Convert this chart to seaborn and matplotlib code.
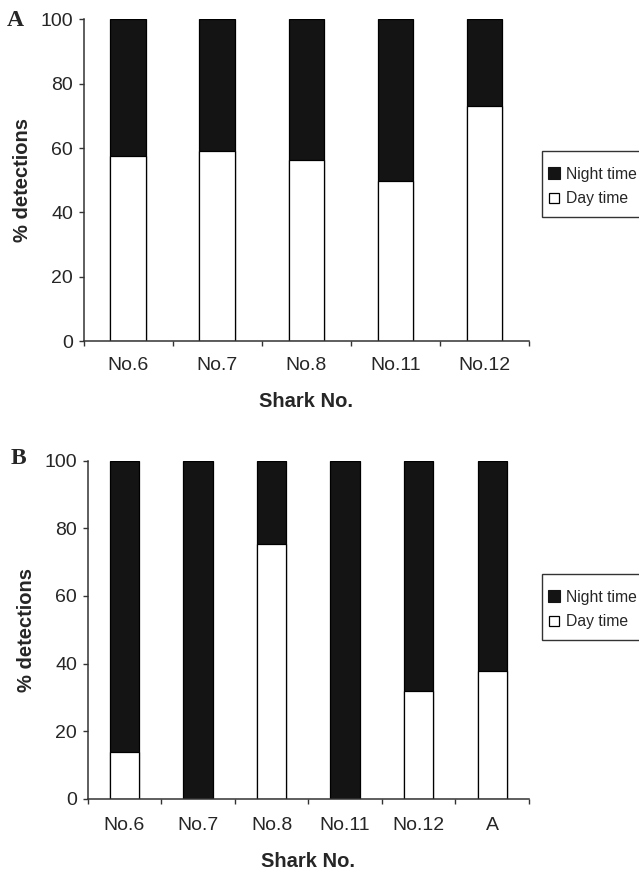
import matplotlib
matplotlib.use("Agg")
import matplotlib.pyplot as plt
import seaborn as sns
from matplotlib.lines import Line2D
from matplotlib.patches import Rectangle

sns.set_theme(style="white")
plt.rcParams['font.family'] = ['Liberation Sans', 'DejaVu Sans']

# Panel A data
cats_a = ["No.6", "No.7", "No.8", "No.11", "No.12"]
day_a = [57.6, 59.1, 56.3, 49.7, 73.1]
night_a = [42.4, 40.9, 43.7, 50.3, 26.9]

# Panel B data
cats_b = ["No.6", "No.7", "No.8", "No.11", "No.12", "A"]
day_b = [13.9, 0.0, 75.5, 0.0, 31.8, 37.9]
night_b = [86.1, 100.0, 24.5, 100.0, 68.2, 62.1]

yticks = [0, 20, 40, 60, 80, 100]

W, H = 639, 871
fig = plt.figure(figsize=(W / 100, H / 100), dpi=100)
ax_a = fig.add_axes([83.7 / W, 1 - 341.3 / H, (529 - 83.7) / W, (341.3 - 19.3) / H])
ax_b = fig.add_axes([87.7 / W, 1 - 798.7 / H, (529 - 87.7) / W, (798.7 - 460.7) / H])

NIGHT = "#141414"


def panel(ax, cats, day, night, width, letter, letter_xy, box, xpad):
    total = [d + n for d, n in zip(day, night)]
    sns.barplot(x=cats, y=total, ax=ax, color=NIGHT, saturation=1, width=width,
                edgecolor="black", linewidth=0.9)
    sns.barplot(x=cats, y=day, ax=ax, color="white", saturation=1, width=width,
                edgecolor="black", linewidth=0.9)
    n = len(cats)
    ax.set_xlim(-0.5, n - 0.5)
    ax.set_ylim(0, 100)
    ax.set_yticks(yticks)
    ax.set_yticklabels([str(v) for v in yticks], fontsize=14)
    ax.set_xticks(range(n))
    ax.set_xticklabels(cats, fontsize=14)
    ax.set_xticks([i - 0.5 for i in range(n + 1)], minor=True)
    ax.tick_params(axis="x", which="major", length=0, pad=xpad)
    ax.tick_params(axis="x", which="minor", length=3.5, width=1, color="#333333",
                   direction="out", bottom=True)
    ax.tick_params(axis="y", which="major", length=3.3, width=1, color="#333333",
                   direction="out", left=True, pad=4.3)
    for s in ["top", "right"]:
        ax.spines[s].set_visible(False)
    for s in ["left", "bottom"]:
        ax.spines[s].set_color("#333333")
        ax.spines[s].set_linewidth(1.1)
    ax.set_xlabel("Shark No.", fontsize=14.5, fontweight="bold", labelpad=13)
    ax.set_ylabel("% detections", fontsize=14.5, fontweight="bold", labelpad=6)
    fig.text(letter_xy[0] / W, 1 - letter_xy[1] / H, letter, fontsize=17, fontweight="bold",
             family=["Liberation Serif", "DejaVu Serif"], va="center", ha="left")

    # legend frame (drawn separately so that vertical and horizontal padding differ)
    x0, y0, x1, y1 = box
    fig.patches.append(Rectangle((x0 / W, 1 - y1 / H), (x1 - x0) / W, (y1 - y0) / H,
                                 transform=fig.transFigure, facecolor="white",
                                 edgecolor="#333333", linewidth=1.0, zorder=1))
    handles = [
        Line2D([0], [0], marker="s", linestyle="none", markersize=8.3,
               markerfacecolor=NIGHT, markeredgecolor=NIGHT, markeredgewidth=0.8),
        Line2D([0], [0], marker="s", linestyle="none", markersize=7.8,
               markerfacecolor="white", markeredgecolor="black", markeredgewidth=0.9),
    ]
    leg = fig.legend(handles, ["Night time", "Day time"], loc="upper left",
                     bbox_to_anchor=(x0 / W, 1 - (y0 + 10) / H),
                     bbox_transform=fig.transFigure, frameon=False,
                     fontsize=11.3, handlelength=0.7, handletextpad=0.42,
                     borderpad=0.38, labelspacing=0.6, borderaxespad=0)
    leg.set_zorder(2)


panel(ax_a, cats_a, day_a, night_a, 0.40, "A", (7, 21), (542.3, 151, 660, 216.7), 11.5)
panel(ax_b, cats_b, day_b, night_b, 0.40, "B", (11, 458), (542.3, 574, 660, 639.7), 13)

fig.savefig("out.png", dpi=100)
